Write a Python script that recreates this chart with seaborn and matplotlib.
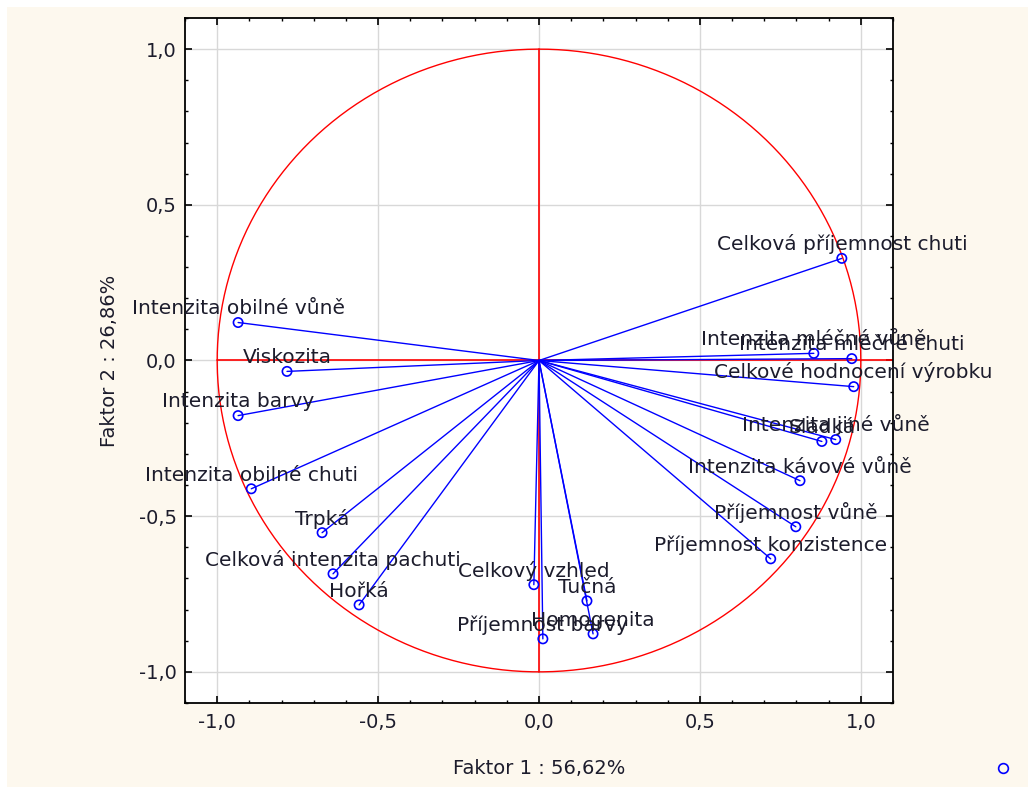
import numpy as np
import pandas as pd
import seaborn as sns
import matplotlib.pyplot as plt
from matplotlib.ticker import MultipleLocator, FuncFormatter
from matplotlib.lines import Line2D
from matplotlib.patches import Rectangle

# variable names and their loadings on the two factors
labels = ["Intenzita obilné vůně", "Viskozita", "Intenzita barvy",
          "Intenzita obilné chuti", "Trpká", "Celková intenzita pachuti",
          "Hořká", "Celkový vzhled", "Příjemnost barvy", "Tučná",
          "Homogenita", "Příjemnost konzistence", "Příjemnost vůně",
          "Intenzita kávové vůně", "Intenzita jiné vůně", "Sladká",
          "Celkové hodnocení výrobku", "Intenzita mléčné chuti",
          "Intenzita mléčné vůně", "Celková příjemnost chuti"]
f1 = [-0.935, -0.783, -0.935, -0.894, -0.674, -0.640, -0.559, -0.016, 0.012, 0.149,
      0.168, 0.720, 0.798, 0.811, 0.922, 0.879, 0.978, 0.972, 0.854, 0.941]
f2 = [0.122, -0.035, -0.177, -0.412, -0.553, -0.685, -0.785, -0.720, -0.894, -0.772,
      -0.878, -0.637, -0.534, -0.386, -0.254, -0.260, -0.084, 0.006, 0.023, 0.328]

xlabel = "Faktor 1 : 56,62%"
ylabel = "Faktor 2 : 26,86%"

df = pd.DataFrame({"label": labels, "f1": f1, "f2": f2})

sns.set_style("white")
plt.rcParams['font.family'] = ['DejaVu Sans']
txt = '#1c1c2c'
fs = 14

fig = plt.figure(figsize=(10.28, 7.87), dpi=100, facecolor='white')
fig.add_artist(Rectangle((7 / 1028, 0), 1, 1 - 7 / 787, transform=fig.transFigure,
                         facecolor='#fdf8ee', edgecolor='none', zorder=-10))
ax = fig.add_axes([185 / 1028, 84 / 787, 708 / 1028, 685 / 787])
ax.set_facecolor('white')

# unit circle and axes cross
t = np.linspace(0, 2 * np.pi, 400)
ax.plot(np.cos(t), np.sin(t), color='red', lw=1, zorder=2)
ax.plot([-1, 1.1], [0, 0], color='red', lw=1.2, zorder=2)
ax.plot([0, 0], [-1, 1], color='red', lw=1.2, zorder=2)

# vectors
for x, y in zip(df.f1, df.f2):
    ax.plot([0, x], [0, y], color='blue', lw=1, zorder=3)

sns.scatterplot(data=df, x="f1", y="f2", ax=ax, marker='o', s=45,
                facecolor='none', edgecolor='blue', linewidth=1.2, zorder=4, legend=False)

for lab, x, y in zip(df.label, df.f1, df.f2):
    ax.annotate(lab, (x, y), xytext=(0, 3), textcoords='offset points',
                ha='center', va='bottom', fontsize=14.5, color=txt, zorder=5)

ax.set_xlim(-1.1, 1.1)
ax.set_ylim(-1.1, 1.1)
ax.set_xticks([-1.0, -0.5, 0.0, 0.5, 1.0])
ax.set_yticks([-1.0, -0.5, 0.0, 0.5, 1.0])
ax.xaxis.set_minor_locator(MultipleLocator(0.1))
ax.yaxis.set_minor_locator(MultipleLocator(0.1))
fmt = FuncFormatter(lambda v, p: f"{v:.1f}".replace('.', ',').replace('-0,0', '0,0'))
ax.xaxis.set_major_formatter(fmt)
ax.yaxis.set_major_formatter(fmt)
ax.grid(True, which='major', color='#d8d8d8', lw=1, zorder=0)
ax.tick_params(which='both', direction='in', top=True, right=True, bottom=True, left=True,
               color='black', labelsize=fs, labelcolor=txt)
ax.tick_params(which='major', length=5, width=1.2)
ax.tick_params(axis='x', which='major', pad=7)
ax.tick_params(axis='y', which='major', pad=6)
ax.tick_params(which='minor', length=2.5, width=1)
for s in ax.spines.values():
    s.set_color('black')
    s.set_linewidth(1.3)

ax.set_xlabel(xlabel, fontsize=fs, color=txt, labelpad=20)
ax.set_ylabel(ylabel, fontsize=fs, color=txt, labelpad=14)

fig.add_artist(Line2D([1003 / 1028], [1 - 768 / 787], transform=fig.transFigure,
                      marker='o', markersize=7, markerfacecolor='none',
                      markeredgecolor='blue', markeredgewidth=1.2, linestyle='none'))

fig.savefig("out.png", dpi=100, facecolor=fig.get_facecolor())
